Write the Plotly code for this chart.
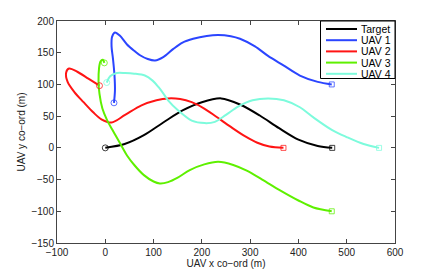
import plotly.graph_objects as go

# ---- data ----
target_x = [0, 40, 80, 120, 160, 200, 240, 280, 320, 360, 400, 440, 470]
target_y = [0, 6, 20, 40, 59, 72, 78, 68, 51, 31, 13, 3, 0]

uav1_x = [18, 20, 19, 16, 13, 14, 20, 30, 45, 60, 72, 88, 103, 120, 141, 160, 182, 210, 234, 260, 279, 310, 337, 369, 403, 440, 469]
uav1_y = [71, 90, 115, 140, 160, 175, 182, 177, 163, 153, 146, 140, 137.6, 143, 156, 166, 172, 176.5, 178, 176, 172, 160, 145, 130, 114, 104, 100]

uav2_x = [-12, -35, -58, -75, -81, -78, -64, -45, -25, -8, 13, 41, 75, 106, 130, 155, 179, 205, 230, 260, 290, 315, 340, 369]
uav2_y = [98, 109, 120, 125, 119, 104, 88, 72, 56, 45, 40, 52, 67, 75, 78, 77, 72, 62, 49, 33, 18, 8, 2, 0]

uav3_x = [-2, -5, -10, -13, -14, -12, -6, 3, 15, 30, 45, 60, 80, 100, 113, 130, 150, 175, 205, 234, 265, 293, 325, 362, 400, 431, 469]
uav3_y = [134, 139, 136, 125, 105, 85, 62, 45, 28, 8, -12, -27, -43, -53, -56, -54, -47, -35, -26, -22, -27, -36, -50, -67, -83, -94, -100]

uav4_x = [3, 10, 24, 41, 60, 82, 98, 110, 120, 130, 151, 179, 206, 227, 250, 275, 305, 337, 370, 403, 431, 470, 500, 535, 567]
uav4_y = [103, 113, 118, 118, 117, 114, 106, 96, 86, 75, 59, 43, 39, 41, 52, 65, 75, 78, 75, 64, 48, 28, 17, 6, 0]

names = ["Target", "UAV 1", "UAV 2", "UAV 3", "UAV 4"]
xs = [target_x, uav1_x, uav2_x, uav3_x, uav4_x]
ys = [target_y, uav1_y, uav2_y, uav3_y, uav4_y]
colors = ["#000000", "#2b45ff", "#ff1414", "#5ef000", "#7dfbdc"]

x_ticks = [-100, 0, 100, 200, 300, 400, 500, 600]
y_ticks = [-150, -100, -50, 0, 50, 100, 150, 200]

fig = go.Figure()
for n, x, y, c in zip(names, xs, ys, colors):
    fig.add_trace(go.Scatter(x=x, y=y, mode="lines", name=n, showlegend=False,
                             line=dict(color=c, width=2, shape="spline", smoothing=0.9)))
for n, x, y, c in zip(names, xs, ys, colors):
    fig.add_trace(go.Scatter(x=[x[0]], y=[y[0]], mode="markers", showlegend=False,
                             marker=dict(symbol="circle-open", size=6, color=c, opacity=0.75,
                                         line=dict(width=1, color=c))))
    fig.add_trace(go.Scatter(x=[x[-1]], y=[y[-1]], mode="markers", showlegend=False,
                             marker=dict(symbol="square-open", size=5, color=c, opacity=0.75,
                                         line=dict(width=1, color=c))))

# The page body has an 8px margin, so the figure is 8px smaller and shifted.
OFF = 8
W, H = 436 - OFF, 273 - OFF
# plot area in window pixels: x 57..395, y 21..243
PL, PR, PT, PB = 57, 395, 21, 243
ML, MT = PL - OFF, PT - OFF
MR, MB = W - (PR - OFF), H - (PB - OFF)


def px_x(p):
    return (p - PL) / (PR - PL)


def px_y(p):
    return (PB - p) / (PB - PT)


# ---- compact legend box (MATLAB style), drawn in paper coordinates ----
shapes = [dict(type="rect", xref="paper", yref="paper",
               x0=px_x(320.5), x1=1.0, y0=px_y(78.5), y1=1.0,
               line=dict(color="#000", width=1), fillcolor="white", layer="above")]
annotations = []
for i, (n, c) in enumerate(zip(names, colors)):
    row = 29 + i * 11.2
    shapes.append(dict(type="line", xref="paper", yref="paper",
                       x0=px_x(326), x1=px_x(357), y0=px_y(row), y1=px_y(row),
                       line=dict(color=c, width=2), layer="above"))
    annotations.append(dict(xref="paper", yref="paper", x=px_x(359), y=px_y(row),
                            xanchor="left", yanchor="middle", text=n, showarrow=False,
                            font=dict(size=10.5, color="#000")))

axis_common = dict(showgrid=False, zeroline=False, showline=True, linecolor="#444",
                   linewidth=1, mirror="ticks", ticks="inside", ticklen=4, automargin=False,
                   tickcolor="#444", tickfont=dict(size=10, color="#222"))

fig.update_layout(
    width=W, height=H,
    margin=dict(l=ML, r=MR, t=MT, b=MB),
    paper_bgcolor="white", plot_bgcolor="white",
    font=dict(family="Liberation Sans, Arial, sans-serif", size=10, color="#222"),
    xaxis=dict(range=[-100, 600], tickvals=x_ticks, title=dict(text="UAV x co−ord (m)", standoff=0,
               font=dict(size=10)), **axis_common),
    yaxis=dict(range=[-150, 200], tickvals=y_ticks, title=dict(text="UAV y co−ord (m)", standoff=3,
               font=dict(size=10)), **axis_common),
    shapes=shapes, annotations=annotations,
    showlegend=False,
)

fig.write_html("out.html")
